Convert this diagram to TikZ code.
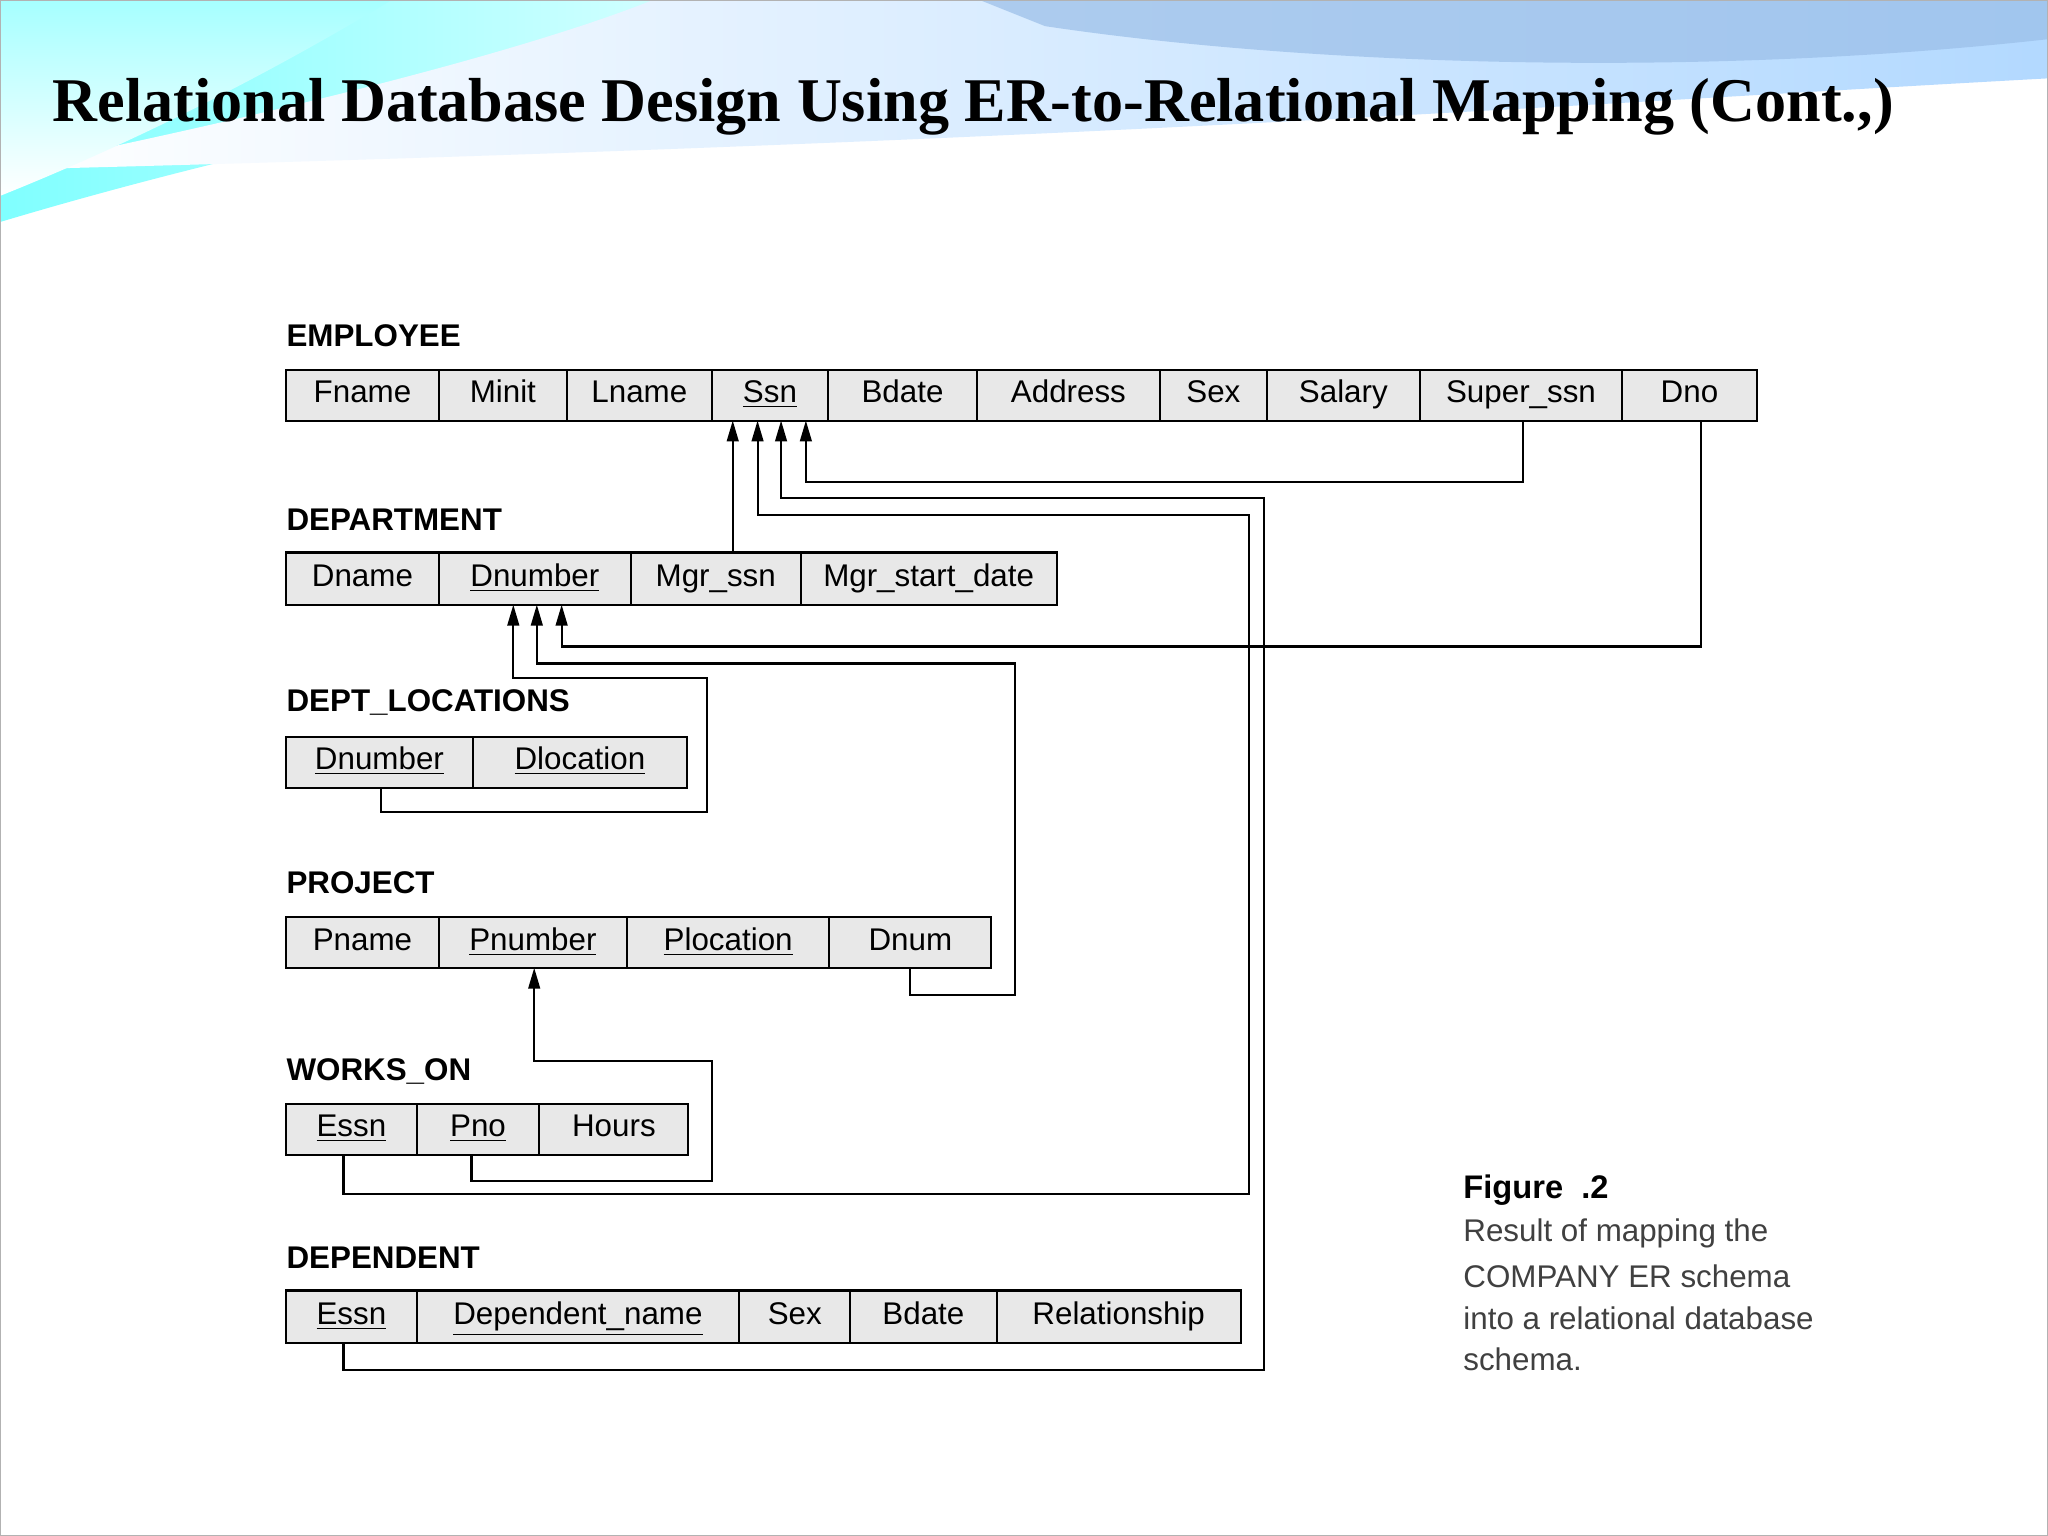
\documentclass[tikz,border=0pt]{standalone}
\usepackage{fontspec}
\setmainfont{Liberation Sans}
\newfontfamily\titlefont{Liberation Serif}
\usetikzlibrary{arrows.meta}
\tikzset{
 cell/.style={draw=black,line width=0.8pt,fill=gray!18,inner sep=0pt,outer sep=0pt,anchor=north west,text height=9pt,text depth=3pt,font=\fontsize{12}{14}\selectfont},
 tlabel/.style={anchor=west,inner sep=0pt,font=\bfseries\fontsize{12}{14}\selectfont},
 arr/.style={line width=0.8pt,-{Triangle[length=8pt,width=4.5pt]}},
 captext/.style={anchor=west,inner sep=0pt,text=black!75,font=\fontsize{12}{14}\selectfont}
}
\newcommand{\mycell}[6]{\node[cell,minimum width={(#3-#2)*0.5pt},minimum height={(#5-#4)*0.5pt}] (#1) at (#2,#4) {#6};}
\begin{document}
\begin{tikzpicture}[x=0.5pt,y=-0.5pt]
\useasboundingbox (0,0) rectangle (1568,1176);
\fill[white] (0,0) rectangle (1568,1176);
% header waves
\shade[left color=cyan!50,right color=white] (0,0) -- (800,0) .. controls (600,40) and (300,80) .. (0,170) -- cycle;
\shade[left color=white,right color=cyan!50!blue!30] (500,0) -- (1568,0) -- (1568,60) .. controls (1200,80) and (800,110) .. (0,130) .. controls (200,90) and (400,40) .. (500,0) -- cycle;
\fill[cyan!60!blue!40,opacity=0.7] (750,0) -- (1568,0) -- (1568,30) .. controls (1300,60) and (1000,50) .. (800,20) -- cycle;
\shade[top color=cyan!35,bottom color=white] (0,0) -- (300,0) .. controls (200,60) and (100,110) .. (0,150) -- cycle;
\draw[gray!60,line width=0.6pt] (0,0) rectangle (1568,1176);
\node[anchor=west,inner sep=0pt,font=\titlefont\bfseries\fontsize{23.8}{26}\selectfont] (title) at (40,82) {Relational Database Design Using ER-to-Relational Mapping (Cont.,)};
% EMPLOYEE
\node[tlabel] (lemp) at (219,257) {EMPLOYEE};
\mycell{Fname}{219}{336}{283}{322}{Fname}
\mycell{Minit}{336}{434}{283}{322}{Minit}
\mycell{Lname}{434}{545}{283}{322}{Lname}
\mycell{Ssn}{545}{634}{283}{322}{\underline{Ssn}}
\mycell{Bdate}{634}{748}{283}{322}{Bdate}
\mycell{Address}{748}{888}{283}{322}{Address}
\mycell{Sex}{888}{970}{283}{322}{Sex}
\mycell{Salary}{970}{1087}{283}{322}{Salary}
\mycell{Super}{1087}{1242}{283}{322}{Super\_ssn}
\mycell{Dno}{1242}{1345}{283}{322}{Dno}
% DEPARTMENT
\node[tlabel] (ldep) at (219,398) {DEPARTMENT};
\mycell{Dname}{219}{336}{423}{463}{Dname}
\mycell{Dnumber}{336}{483}{423}{463}{\underline{Dnumber}}
\mycell{Mgr}{483}{613}{423}{463}{Mgr\_ssn}
\mycell{Mgrsd}{613}{809}{423}{463}{Mgr\_start\_date}
% DEPT_LOCATIONS
\node[tlabel] (ldl) at (219,538) {DEPT\_LOCATIONS};
\mycell{DLnum}{219}{362}{564}{603}{\underline{Dnumber}}
\mycell{DLloc}{362}{526}{564}{603}{\underline{Dlocation}}
% PROJECT
\node[tlabel] (lproj) at (219,676) {PROJECT};
\mycell{Pname}{219}{336}{702}{741}{Pname}
\mycell{Pnumber}{336}{480}{702}{741}{\underline{Pnumber}}
\mycell{Ploc}{480}{635}{702}{741}{\underline{Plocation}}
\mycell{Dnum}{635}{759}{702}{741}{Dnum}
% WORKS_ON
\node[tlabel] (lwo) at (219,820) {WORKS\_ON};
\mycell{WEssn}{219}{319}{845}{884}{\underline{Essn}}
\mycell{Pno}{319}{413}{845}{884}{\underline{Pno}}
\mycell{Hours}{413}{527}{845}{884}{Hours}
% DEPENDENT
\node[tlabel] (ldpd) at (219,963) {DEPENDENT};
\mycell{DEssn}{219}{319}{988}{1028}{\underline{Essn}}
\mycell{Dname2}{319}{566}{988}{1028}{\underline{Dependent\_name}}
\mycell{DSex}{566}{651}{988}{1028}{Sex}
\mycell{DBdate}{651}{763}{988}{1028}{Bdate}
\mycell{Rel}{763}{950}{988}{1028}{Relationship}
% connectors
\draw[arr] ([xshift=6.5pt]Mgr.north) -- ([xshift=-14.25pt]Ssn.south);
\draw[arr] ([xshift=0.75pt]Super.south) -- ++(0,47) -| ([xshift=13.75pt]Ssn.south);
\draw[arr] ([xshift=-3pt]DEssn.south) |- (968,1049) -- (968,381) -| ([xshift=4.25pt]Ssn.south);
\draw[arr] ([xshift=-3pt]WEssn.south) |- (956,914) -- (956,394) -| ([xshift=-4.75pt]Ssn.south);
\draw[arr] ([xshift=4.25pt]Dno.south) |- (430,495) -- ([xshift=10.25pt]Dnumber.south);
\draw[arr] (Dnum.south) |- (777,762) -- (777,508) -| ([xshift=0.75pt]Dnumber.south);
\draw[arr] ([xshift=0.75pt]DLnum.south) |- (541,622) -- (541,519) -| ([xshift=-8.25pt]Dnumber.south);
\draw[arr] ([xshift=-2.5pt]Pno.south) |- (545,904) -- (545,812) -| ([xshift=0.5pt]Pnumber.south);
% caption
\node[anchor=west,inner sep=0pt,font=\bfseries\fontsize{12.5}{14}\selectfont] (fig) at (1120,911) {Figure\ \ .2};
\node[captext] (c1) at (1120,944) {Result of mapping the};
\node[captext] (c2) at (1120,977) {COMPANY ER schema};
\node[captext] (c3) at (1120,1009) {into a relational database};
\node[captext] (c4) at (1120,1041) {schema.};
\end{tikzpicture}
\end{document}
